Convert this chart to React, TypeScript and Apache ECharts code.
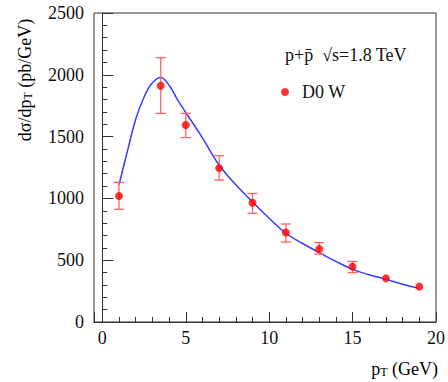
import React, { useEffect, useRef } from 'react';
import * as echarts from 'echarts';

// Measured data points (D0 W)
const ptValues = [1, 3.5, 5, 7, 9, 11, 13, 15, 17, 19];
const crossSection = [1020, 1912, 1594, 1245, 965, 724, 590, 448, 353, 286];
const errUpper = [1130, 2138, 1688, 1346, 1040, 793, 642, 490, null, null];
const errLower = [912, 1688, 1492, 1149, 879, 647, 550, 400, null, null];

// Theory curve samples
const curvePt = [1.0, 1.5, 2.0, 2.5, 3.0, 3.5, 4.0, 4.5, 5.0, 6.0, 7.0, 8.0, 9.0, 10.0, 11.0, 12.0, 13.0, 14.0, 15.0, 16.0, 17.0, 18.0, 19.0];
const curveVal = [1110, 1380, 1640, 1820, 1935, 1978, 1915, 1800, 1695, 1490, 1270, 1110, 972, 840, 718, 635, 562, 490, 426, 382, 345, 305, 272];

const FONT = "'Liberation Serif', 'DejaVu Serif', serif";
const TXT = '#111';
const FRAME = '#333';

export default function App() {
  const ref = useRef<HTMLDivElement>(null);
  useEffect(() => {
    if (!ref.current) return;
    const chart = echarts.init(ref.current, undefined, { renderer: 'svg' });
    const scatterData = ptValues.map((x, i) => [x, crossSection[i]]);
    const errData = ptValues
      .map((x, i) => [x, errLower[i], errUpper[i]])
      .filter((d) => d[1] != null && d[2] != null);
    const curveData = curvePt.map((x, i) => [x, curveVal[i]]);
    const subRich = {
      a: { fontFamily: FONT, fontSize: 18, color: TXT, lineHeight: 18 },
      s: { fontFamily: FONT, fontSize: 12, color: TXT, lineHeight: 12, verticalAlign: 'bottom', padding: [10, 0, 0, 0] },
    };
    chart.setOption({
      animation: false,
      backgroundColor: '#fff',
      textStyle: { fontFamily: FONT },
      grid: { left: 94, top: 13, right: 10, bottom: 60, show: true, borderColor: FRAME, borderWidth: 1 },
      xAxis: {
        type: 'value',
        min: -0.5,
        max: 20,
        splitNumber: 4,
        axisLine: { show: true, lineStyle: { color: FRAME, width: 1 } },
        axisTick: { show: true, inside: true, length: 10, lineStyle: { color: FRAME } },
        minorTick: { show: true, splitNumber: 5, length: 5, lineStyle: { color: FRAME } },
        splitLine: { show: false },
        axisLabel: {
          showMinLabel: false,
          margin: 7,
          fontFamily: FONT,
          fontSize: 18,
          color: TXT,
          formatter: (v: number) => (Number.isInteger(v) ? String(v) : ''),
        },
      },
      yAxis: {
        type: 'value',
        min: 0,
        max: 2500,
        interval: 500,
        axisLine: { show: true, lineStyle: { color: FRAME, width: 1 } },
        axisTick: { show: true, inside: true, length: 11, lineStyle: { color: FRAME } },
        minorTick: { show: true, splitNumber: 5, length: 5, lineStyle: { color: FRAME } },
        splitLine: { show: false },
        axisLabel: {
          margin: 10,
          fontFamily: FONT,
          fontSize: 18,
          color: TXT,
          formatter: (v: number) => String(v),
        },
      },
      legend: {
        data: ['D0 W'],
        left: 276,
        top: 78,
        icon: 'circle',
        itemWidth: 24,
        itemHeight: 8,
        textStyle: { fontFamily: FONT, fontSize: 18, color: TXT },
      },
      graphic: [
        {
          type: 'text',
          x: 25,
          y: 80,
          rotation: Math.PI / 2,
          style: {
            text: '{a|dσ/dp}{s|T}{a| (pb/GeV)}',
            rich: subRich,
            align: 'center',
            verticalAlign: 'middle',
          },
        },
        {
          type: 'text',
          x: 438,
          y: 369,
          style: {
            text: '{a|p}{s|T}{a| (GeV)}',
            rich: subRich,
            align: 'right',
            verticalAlign: 'middle',
          },
        },
        {
          type: 'text',
          x: 285,
          y: 55,
          style: {
            text: 'p+p\u0304\u00a0\u00a0√s=1.8 TeV',
            fontFamily: FONT,
            fontSize: 18,
            fill: TXT,
            align: 'left',
            verticalAlign: 'middle',
          },
        },
      ],
      series: [
        {
          type: 'line',
          name: 'fit',
          data: curveData,
          smooth: 0.4,
          showSymbol: false,
          symbol: 'none',
          lineStyle: { color: '#3b3bff', width: 1.5 },
          z: 2,
        },
        {
          type: 'custom',
          name: 'err',
          data: errData,
          z: 3,
          renderItem: (params: any, api: any) => {
            const x = api.value(0);
            const lo = api.coord([x, api.value(1)]);
            const hi = api.coord([x, api.value(2)]);
            const hw = 5;
            const style = { stroke: '#ff6262', lineWidth: 1.3 };
            return {
              type: 'group',
              children: [
                { type: 'line', shape: { x1: hi[0], y1: hi[1], x2: lo[0], y2: lo[1] }, style },
                { type: 'line', shape: { x1: hi[0] - hw, y1: hi[1], x2: hi[0] + hw, y2: hi[1] }, style },
                { type: 'line', shape: { x1: lo[0] - hw, y1: lo[1], x2: lo[0] + hw, y2: lo[1] }, style },
              ],
            };
          },
        },
        {
          type: 'scatter',
          name: 'D0 W',
          data: scatterData,
          symbol: 'circle',
          symbolSize: 8,
          itemStyle: { color: '#ff0000' },
          z: 4,
        },
      ],
    });
    return () => chart.dispose();
  }, []);
  return (
    <div
      ref={ref}
      style={{ position: 'fixed', left: 0, top: 0, width: 448, height: 382, background: '#fff' }}
    />
  );
}
